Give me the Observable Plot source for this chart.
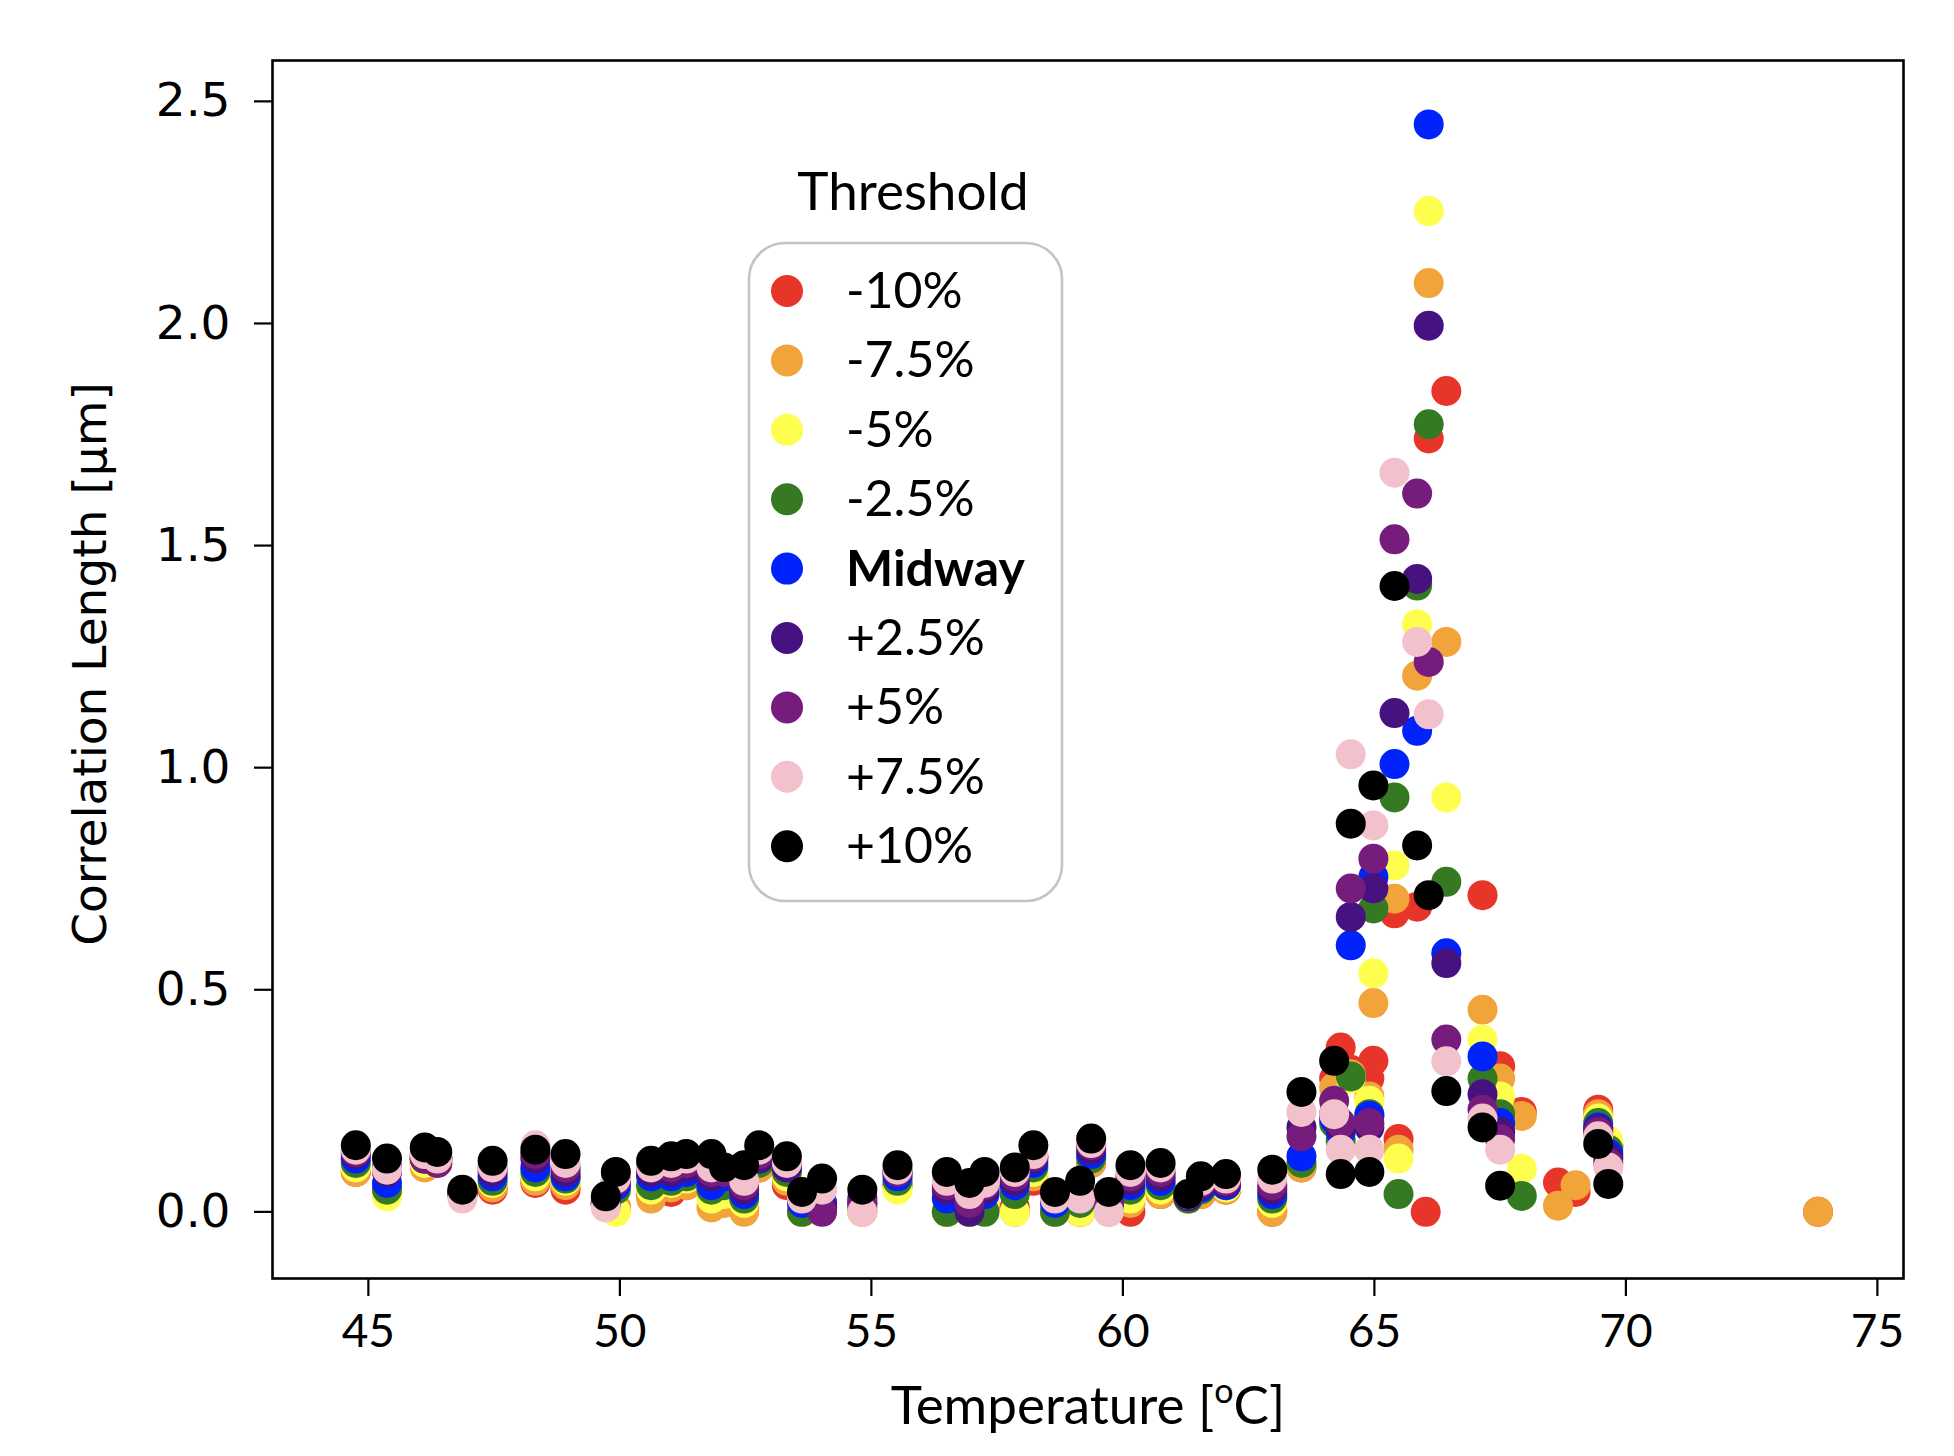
<!DOCTYPE html>
<html>
<head>
<meta charset="utf-8">
<script src="https://cdn.jsdelivr.net/npm/d3@7"></script>
<script src="https://cdn.jsdelivr.net/npm/@observablehq/plot@0.6"></script>
<style>
  html, body { margin: 0; padding: 0; background: #fff; }
  #chart { position: relative; width: 1954px; height: 1456px; }
</style>
</head>
<body>
<div id="chart"></div>
<script>
// Temperatures (°C) of the measurement columns
const temps = [
  44.75, 45.37, 46.12, 46.37, 46.87, 47.47, 48.32, 48.92, 49.72, 49.92,
  50.62, 51.02, 51.32, 51.82, 52.07, 52.47, 52.77, 53.32, 53.62, 54.02,
  54.82, 55.52, 56.5, 56.95, 57.25, 57.85, 58.22, 58.65, 59.15, 59.37,
  59.72, 60.15, 60.75, 61.3, 61.55, 62.05, 62.97, 63.55, 64.2, 64.33,
  64.53, 64.98, 64.9, 65.4, 65.48, 65.85, 66.02, 66.08, 66.43, 67.15,
  67.5, 67.93, 68.65, 69.0, 69.45, 69.65, 73.82
];

// Correlation length (µm) per threshold series
const red = [
  .09, .05, .11, .11, .04, .05, .065, .05, .02, .01,
  .04, .045, .06, .04, .03, .01, .10, .06, 0, .01,
  0, .06, 0, 0, .01, .01, .07, 0, 0, .11,
  .01, 0, .04, .03, .04, .05, 0, .10, .30, .37,
  .32, .34, .30, .672, .164, .687, 0, 1.741, 1.848, .713,
  .328, .225, .066, .045, .23, .15, 0
];
const orange = [
  .09, .045, .10, .11, .04, .055, .07, .06, .02, .01,
  .03, .055, .06, .01, .02, 0, .10, .07, 0, .01,
  0, .06, 0, 0, .02, 0, .08, 0, 0, .11,
  0, .02, .04, .03, .04, .05, 0, .10, .28, .20,
  .31, .47, .26, .705, .14, 1.207, null, 2.091, 1.283, .455,
  .30, .216, .014, .06, .22, .15, 0
];
const yellow = [
  .10, .035, .11, .12, .04, .065, .08, .07, .02, 0,
  .05, .065, .075, .03, .04, .02, .11, .08, 0, .01,
  0, .05, 0, 0, .02, 0, .09, 0, 0, .12,
  .01, .03, .05, .03, .05, .055, .02, .11, .25, .17,
  .30, .537, .25, .78, .12, 1.323, null, 2.253, .933, .388,
  .26, .097, null, null, .21, .16, null
];
const green = [
  .11, .05, .12, .12, .045, .07, .09, .075, .02, .05,
  .06, .07, .08, .05, .06, .03, .11, .09, 0, .02,
  .01, .07, 0, .01, 0, .04, .10, 0, .02, .12,
  .01, .05, .06, .03, .05, .06, .03, .11, .20, .16,
  .305, .683, .22, .933, .04, 1.41, null, 1.773, .743, .30,
  .22, .036, null, null, .20, .14, null
];
const blue = [
  .12, .065, .12, .12, .045, .08, .10, .08, .02, .06,
  .08, .08, .09, .06, .08, .04, .12, .10, .02, .02,
  .02, .08, .03, .02, .04, .06, .11, .02, .03, .13,
  .02, .06, .07, .035, .055, .06, .04, .125, .21, .18,
  .60, .754, .216, 1.008, null, 1.083, null, 2.448, .582, .35,
  .20, null, null, null, .19, .13, null
];
const indigo = [
  .13, .09, .13, .12, .045, .09, .12, .09, .02, .07,
  .09, .09, .10, .08, .09, .05, .12, .10, .03, .01,
  .03, .09, .05, 0, .05, .07, .12, .03, .04, .14,
  .02, .07, .08, .035, .06, .065, .05, .19, .22, .19,
  .664, .728, .19, 1.123, null, 1.425, null, 1.995, .56, .265,
  .18, null, null, null, .185, .12, null
];
const purple = [
  .135, .10, .12, .11, .04, .10, .13, .10, .015, .07,
  .10, .10, .11, .09, .09, .06, .13, .11, .03, 0,
  .02, .09, .06, .02, .06, .08, .125, .04, .04, .15,
  .02, .08, .09, .04, .065, .07, .06, .17, .25, .20,
  .728, .795, .20, 1.514, null, 1.617, null, 1.238, .388, .23,
  .164, null, null, null, .18, .11, null
];
const pink = [
  .14, .095, .13, .12, .03, .10, .15, .11, .01, .075,
  .10, .11, .12, .10, .10, .07, .14, .11, .03, .05,
  0, .095, .07, .04, .065, .09, .13, .03, .03, .155,
  0, .09, .10, .04, .07, .075, .075, .225, .22, .14,
  1.03, .87, .14, 1.664, null, 1.283, null, 1.12, .339, .21,
  .14, null, null, null, .17, .10, null
];
const black = [
  .15, .12, .145, .135, .05, .115, .14, .13, .035, .09,
  .115, .125, .13, .13, .10, .105, .15, .125, .045, .075,
  .05, .105, .09, .065, .09, .10, .15, .045, .07, .165,
  .045, .105, .11, .04, .08, .085, .095, .27, .34, .085,
  .874, .96, .09, 1.409, null, .825, null, .713, .272, .19,
  .059, null, null, null, .153, .063, null
];

const seriesNames = ["-10%", "-7.5%", "-5%", "-2.5%", "Midway", "+2.5%", "+5%", "+7.5%", "+10%"];
const seriesValues = [red, orange, yellow, green, blue, indigo, purple, pink, black];
const seriesColors = ["#e8352a", "#f0a43a", "#fefe4e", "#357a23", "#0022fb", "#46127f", "#761c7c", "#f2c1cb", "#000000"];

const xTicks = [45, 50, 55, 60, 65, 70, 75];
const yTicks = [0, 0.5, 1.0, 1.5, 2.0, 2.5];

const data = seriesNames.flatMap((name, s) =>
  temps.map((t, i) => ({T: t, v: seriesValues[s][i], series: name}))
).filter(d => d.v != null);

const chart = Plot.plot({
  width: 1954,
  height: 1456,
  marginLeft: 272,
  marginRight: 51,
  marginTop: 60,
  marginBottom: 178,
  style: {background: "white", color: "black", overflow: "visible"},
  x: {domain: [43.094, 75.519], label: null},
  y: {domain: [-0.150, 2.592], label: null},
  color: {domain: seriesNames, range: seriesColors},
  marks: [
    Plot.dot(data, {x: "T", y: "v", fill: "series", r: 15}),
    Plot.frame({stroke: "black", strokeWidth: 2.6}),
    Plot.axisX({ticks: xTicks, tickFormat: d => String(d), tickSize: 18, tickPadding: 18,
      fontSize: 46, fontFamily: "Lato", strokeWidth: 2.2, label: null}),
    Plot.axisY({ticks: yTicks, tickFormat: d3.format(".1f"), tickSize: 18, tickPadding: 24,
      fontSize: 47, fontFamily: "DejaVu Sans", strokeWidth: 2.2, label: null})
  ]
});
document.getElementById("chart").appendChild(chart);

// Axis titles and legend
const svg = d3.select(chart);
const xt = svg.append("text")
  .attr("x", 1088).attr("y", 1424)
  .attr("text-anchor", "middle")
  .attr("font-family", "Lato").attr("font-size", 53).attr("fill", "black");
xt.append("tspan").text("Temperature [");
xt.append("tspan").text("o").attr("font-size", 34).attr("dy", -21);
xt.append("tspan").text("C]").attr("dy", 21);

svg.append("text")
  .attr("transform", "translate(106,664) rotate(-90)")
  .attr("text-anchor", "middle")
  .attr("font-family", "DejaVu Sans").attr("font-size", 47).attr("fill", "black")
  .text("Correlation Length [μm]");

const leg = svg.append("g");
leg.append("text").attr("x", 913).attr("y", 210).attr("text-anchor", "middle")
  .attr("font-family", "Lato").attr("font-size", 53).attr("fill", "black").text("Threshold");
leg.append("rect").attr("x", 749).attr("y", 243).attr("width", 313).attr("height", 658)
  .attr("rx", 36).attr("ry", 36).attr("fill", "white").attr("stroke", "#c4c4c4").attr("stroke-width", 2.6);
seriesNames.forEach((name, i) => {
  const cy = 291 + i * 69.4;
  leg.append("circle").attr("cx", 787).attr("cy", cy).attr("r", 16).attr("fill", seriesColors[i]);
  leg.append("text").attr("x", 846).attr("y", cy + 17)
    .attr("text-anchor", "start")
    .attr("font-family", "Lato").attr("font-size", 50).attr("fill", "black")
    .attr("font-weight", name === "Midway" ? "bold" : "normal")
    .text(name);
});
</script>
</body>
</html>
